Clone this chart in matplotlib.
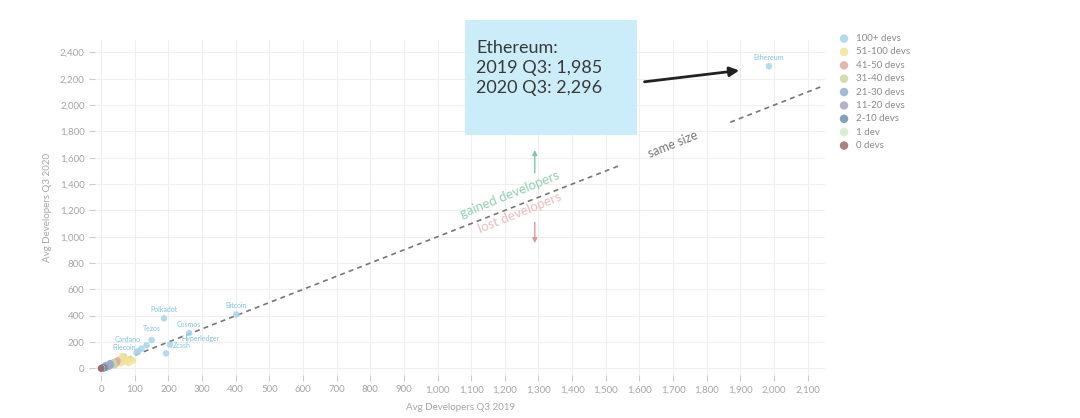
import matplotlib
matplotlib.use('Agg')
import matplotlib.pyplot as plt
from matplotlib.patches import Rectangle
from matplotlib.ticker import FuncFormatter

plt.rcParams['font.family'] = ['Lato', 'DejaVu Sans']

# legend categories and colours
categories = ['100+ devs', '51-100 devs', '41-50 devs', '31-40 devs', '21-30 devs',
              '11-20 devs', '2-10 devs', '1 dev', '0 devs']
colors = ['#a5d5ea', '#f2e29a', '#dfa8a0', '#c9d89b', '#8fb0cf',
          '#a9a2c4', '#6c8fb0', '#d3ecc9', '#9c6b6e']

# avg developers Q3 2019 (x) and Q3 2020 (y) per category
x_100p = [1985, 402, 187, 262, 150, 135, 205, 193, 68, 120, 110, 105]
y_100p = [2296, 410, 380, 268, 215, 175, 180, 114, 91, 150, 130, 120]
x_51 = [52, 55, 58, 60, 63, 66, 70, 74, 78, 82, 88, 95]
y_51 = [45, 70, 38, 60, 95, 50, 80, 55, 65, 40, 72, 58]
x_41 = [41, 43, 45, 47, 49]
y_41 = [30, 52, 38, 44, 60]
x_31 = [31, 33, 35, 37, 39, 40]
y_31 = [25, 40, 30, 48, 35, 22]
x_21 = [21, 23, 25, 26, 28, 30, 22, 27]
y_21 = [18, 30, 22, 35, 20, 28, 12, 40]
x_11 = [11, 12, 14, 15, 17, 18, 20, 13, 16, 19]
y_11 = [10, 15, 8, 20, 12, 18, 14, 25, 6, 22]
x_2 = [2, 3, 4, 5, 6, 7, 8, 9, 10, 3, 5, 7, 9, 4, 6, 8]
y_2 = [1, 3, 2, 5, 4, 6, 3, 8, 7, 0, 1, 2, 4, 9, 10, 0]
x_1 = [1, 1, 1, 1]
y_1 = [0, 1, 2, 0]
x_0 = [0, 0, 0]
y_0 = [0, 1, 0]

# labelled projects
project_names = ['Ethereum', 'Bitcoin', 'Polkadot', 'Cosmos', 'Tezos', 'Cardano',
                 'Hyperledger', 'Zcash', 'Filecoin']
project_x = [1985, 402, 187, 262, 150, 135, 205, 193, 68]
project_y = [2296, 410, 380, 268, 215, 175, 180, 114, 91]
label_offsets = [(0, 4), (0, 4), (0, 4), (0, 4), (0, 6), (-4, 2), (8, 2), (5, 3), (0, 4)]

series_x = [x_100p, x_51, x_41, x_31, x_21, x_11, x_2, x_1, x_0]
series_y = [y_100p, y_51, y_41, y_31, y_21, y_11, y_2, y_1, y_0]

fig = plt.figure(figsize=(10.8, 4.18), dpi=100)
ax = fig.add_axes([0.088, 0.103, 0.676, 0.801])

handles = []
for xs, ys, c, lab in zip(series_x, series_y, colors, categories):
    h = ax.scatter(xs, ys, s=22, color=c, alpha=0.85, edgecolors='none', label=lab, zorder=3)
    handles.append(h)

for name, px, py, off in zip(project_names, project_x, project_y, label_offsets):
    ha = 'center'
    if off[0] < 0:
        ha = 'right'
    elif off[0] > 0:
        ha = 'left'
    ax.annotate(name, (px, py), xytext=off, textcoords='offset points',
                ha=ha, va='bottom', fontsize=5, color='#7fc3df', zorder=4)

# same size reference line
ax.plot([0, 1540], [0, 1540], ls=(0, (3, 2.5)), color='#777777', lw=1.2, zorder=2)
ax.plot([1870, 2140], [1870, 2140], ls=(0, (3, 2.5)), color='#777777', lw=1.2, zorder=2)
ax.text(1700, 1700, 'same size', rotation=22, fontsize=9, color='#777777',
        ha='center', va='center')
ax.text(1215, 1320, 'gained developers', rotation=22, fontsize=9.5, color='#8fd0b0',
        ha='center', va='center')
ax.text(1245, 1185, 'lost developers', rotation=22, fontsize=9.5, color='#ebbcbc',
        ha='center', va='center')
ax.annotate('', xy=(1289, 1680), xytext=(1289, 1465),
            arrowprops=dict(arrowstyle='-|>', color='#7cc8a8', lw=1, mutation_scale=7))
ax.annotate('', xy=(1289, 930), xytext=(1289, 1130),
            arrowprops=dict(arrowstyle='-|>', color='#d99a9a', lw=1, mutation_scale=7))

ax.set_xlim(-18, 2152)
ax.set_ylim(-50, 2494)
ax.set_xticks(range(0, 2101, 100))
ax.set_yticks(range(0, 2401, 200))
fmt = FuncFormatter(lambda v, p: f'{int(v):,}')
ax.xaxis.set_major_formatter(fmt)
ax.yaxis.set_major_formatter(fmt)
ax.tick_params(colors='#cccccc', labelcolor='#a5a5a5', labelsize=7, length=4, width=0.8)
ax.grid(color='#efefef', lw=0.8)
ax.set_axisbelow(True)
for s in ax.spines.values():
    s.set_visible(False)
ax.set_xlabel('Avg Developers Q3 2019', fontsize=7, color='#a5a5a5', labelpad=6)
ax.set_ylabel('Avg Developers Q3 2020', fontsize=7, color='#a5a5a5', labelpad=6)

# Ethereum call-out box
fig.patches.append(Rectangle((0.4306, 0.677), 0.159, 0.275, transform=fig.transFigure,
                             facecolor='#c6ecf9', edgecolor='none', alpha=0.9, zorder=5))
fig.text(0.441, 0.905, 'Ethereum:\n2019 Q3: 1,985\n2020 Q3: 2,296', fontsize=13,
         color='#383838', va='top', ha='left', linespacing=1.3, zorder=6)
ax.annotate('', xy=(1905, 2266), xytext=(1607, 2175), annotation_clip=False,
            arrowprops=dict(arrowstyle='-|>', color='#222222', lw=2, mutation_scale=14))

fig.legend(handles=handles, loc='upper left', bbox_to_anchor=(0.768, 0.93),
           frameon=False, fontsize=7, labelcolor='#8a8a8a', handletextpad=0.2,
           labelspacing=0.45, markerscale=1.3, borderpad=0)

fig.savefig('out.png', dpi=100)
